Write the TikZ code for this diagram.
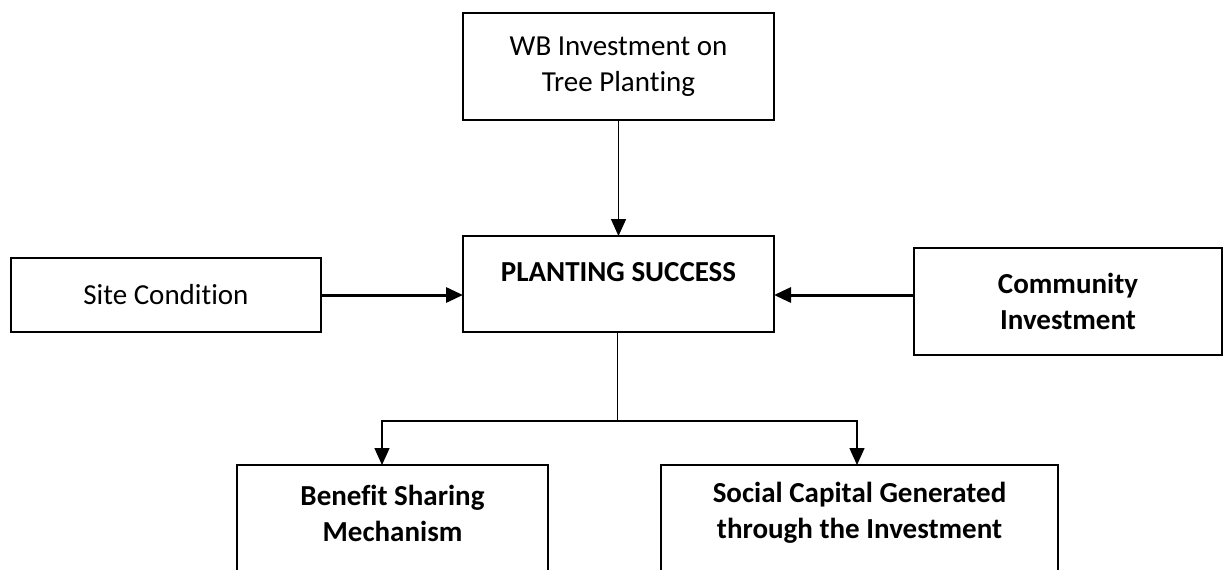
\documentclass[tikz,border=0pt]{standalone}
\usepackage{fontspec}
\setmainfont{Carlito}[Ligatures=NoCommon]
\usetikzlibrary{arrows.meta}

\begin{document}
\begin{tikzpicture}[x=0.5pt,y=-0.5pt,every node/.style={font=\fontsize{14.5}{18}\selectfont, align=center, inner sep=0pt, outer sep=0pt},
  box/.style={draw, line width=0.75pt, minimum width=#1},
  tip/.style={-{Triangle[length=8.5pt,width=7.5pt]}}]
\useasboundingbox (0,0) rectangle (1223,569);

\node[box=155.5pt, minimum height=53.5pt] (wb) at (618.5,66.5) {WB Investment on\\Tree Planting};
\node[box=155.5pt, minimum height=48pt] (success) at (618.5,284) {};
\node[font=\fontsize{14.5}{18}\selectfont\bfseries] (successtxt) at (618.5,272) {PLANTING SUCCESS};
\node[box=155pt, minimum height=37pt] (site) at (166,295) {Site Condition};
\node[box=154pt, minimum height=53.5pt, font=\fontsize{14.5}{18}\selectfont\bfseries] (community) at (1068,301.5) {Community\\Investment};
\node[box=155.5pt, minimum height=60pt] (benefit) at (392.5,525) {};
\node[font=\fontsize{14.5}{18}\selectfont\bfseries] (benefittxt) at (392.5,513) {Benefit Sharing\\Mechanism};
\node[box=198.5pt, minimum height=60pt] (social) at (859.5,525) {};
\node[font=\fontsize{14.5}{18}\selectfont\bfseries] (socialtxt) at (859.5,513) {Social Capital Generated\\through the Investment};

\coordinate (split) at (617,421);
\coordinate (bl) at (382,421);
\coordinate (br) at (857,421);

\draw[tip, line width=0.75pt] (wb) -- (success);
\draw[tip, line width=1.5pt] (site.east) -- (success.west |- site.east);
\draw[tip, line width=1.5pt] (community.west |- site.east) -- (success.east |- site.east);
\draw[line width=0.5pt] (success.south -| split) -- (split);
\draw[tip, line width=0.75pt] (split) -- (bl) -- (bl |- benefit.north);
\draw[tip, line width=0.75pt] (split) -- (br) -- (br |- social.north);
\end{tikzpicture}
\end{document}
